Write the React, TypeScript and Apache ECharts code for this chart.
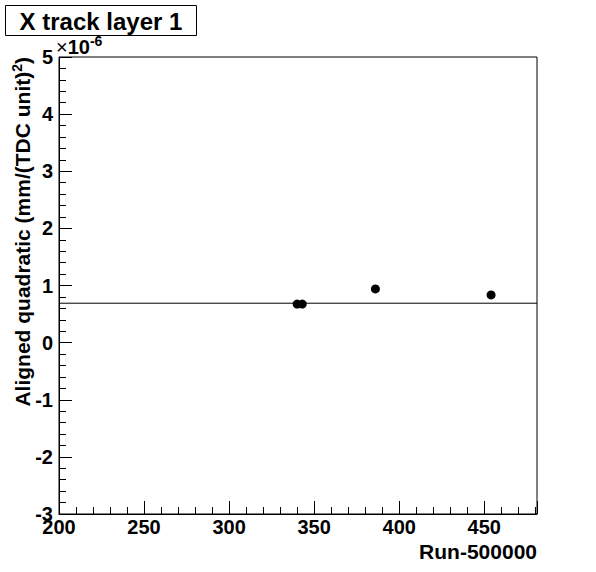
import React, { useEffect, useRef } from "react";
import * as echarts from "echarts";

const runs = [340, 343, 386, 454];
const values = [0.675, 0.675, 0.94, 0.835]; // in units of 1e-6
const fitValue = 0.69;
const xRange = [200, 481];
const yRange = [-3, 5];
const titleText = "X track layer 1";
const yTitle = "Aligned quadratic (mm/(TDC unit){s|2})";
const xTitle = "Run-500000";

const FONT = "'Liberation Sans', Arial, Helvetica, sans-serif";

export default function App() {
  const ref = useRef<HTMLDivElement>(null);
  useEffect(() => {
    if (!ref.current) return;
    const chart = echarts.init(ref.current, undefined, { renderer: "svg" });
    const points = runs.map((r, i) => [r, values[i]]);
    const fitLine = [
      [xRange[0], fitValue],
      [xRange[1], fitValue],
    ];
    const labelStyle = {
      color: "#000",
      fontFamily: FONT,
      fontWeight: "bold" as const,
      fontSize: 20,
    };
    chart.setOption({
      animation: false,
      backgroundColor: "#fff",
      grid: {
        left: 59,
        top: 57,
        width: 478,
        height: 457,
        show: true,
        borderColor: "#000",
        borderWidth: 1,
        backgroundColor: "transparent",
        containLabel: false,
      },
      xAxis: [
        {
          type: "value",
          min: xRange[0],
          max: xRange[1],
          interval: 50,
          position: "bottom",
          axisLine: { show: true, onZero: false, lineStyle: { color: "#000", width: 1 } },
          axisTick: { show: true, inside: true, length: 13, lineStyle: { color: "#000" } },
          splitLine: { show: false },
          axisLabel: {
            ...labelStyle,
            margin: 3,
            formatter: (v: number) => (v % 50 === 0 ? String(v) : ""),
          },
        },
        {
          type: "value",
          min: xRange[0],
          max: xRange[1],
          interval: 10,
          position: "bottom",
          offset: 0,
          axisLine: { show: false, onZero: false },
          axisTick: { show: true, inside: true, length: 7, lineStyle: { color: "#000" } },
          splitLine: { show: false },
          axisLabel: { show: false },
        },
      ],
      yAxis: [
        {
          type: "value",
          min: yRange[0],
          max: yRange[1],
          interval: 1,
          position: "left",
          axisLine: { show: true, onZero: false, lineStyle: { color: "#000", width: 1 } },
          axisTick: { show: true, inside: true, length: 13, lineStyle: { color: "#000" } },
          minorTick: { show: true, splitNumber: 5, length: 7, lineStyle: { color: "#000" } },
          splitLine: { show: false },
          minorSplitLine: { show: false },
          axisLabel: { ...labelStyle, margin: 6 },
        },
      ],
      series: [
        {
          type: "line",
          xAxisIndex: 0,
          data: fitLine,
          symbol: "none",
          lineStyle: { color: "#000", width: 1 },
          silent: true,
          z: 2,
        },
        {
          type: "scatter",
          xAxisIndex: 0,
          data: points,
          symbol: "circle",
          symbolSize: 9,
          itemStyle: { color: "#000", opacity: 1 },
          z: 3,
        },
      ],
      graphic: [
        {
          type: "rect",
          shape: { x: 5.5, y: 5.5, width: 191, height: 30 },
          style: { fill: "#fff", stroke: "#000", lineWidth: 1 },
        },
        {
          type: "text",
          x: 101,
          y: 21,
          style: {
            text: titleText,
            fill: "#000",
            font: `bold 24px ${FONT}`,
            align: "center",
            verticalAlign: "middle",
          },
        },
        {
          type: "text",
          x: 56,
          y: 47,
          style: {
            text: "{x|\u00D7}{a|10}{b|-6}",
            align: "left",
            verticalAlign: "middle",
            rich: {
              x: { fill: "#000", fontSize: 20, fontFamily: FONT, fontWeight: "normal" },
              a: { fill: "#000", fontSize: 20, fontFamily: FONT, fontWeight: "bold" },
              b: {
                fill: "#000",
                fontSize: 14,
                fontFamily: FONT,
                fontWeight: "bold",
                verticalAlign: "top",
                padding: [0, 0, 12, 0],
              },
            },
          },
        },
        {
          type: "text",
          x: 22,
          y: 57,
          rotation: Math.PI / 2,
          style: {
            text: "{m|Aligned quadratic (mm/(TDC unit)}{s|2}{m|)}",
            align: "right",
            verticalAlign: "middle",
            rich: {
              m: { fill: "#000", fontSize: 21, fontFamily: FONT, fontWeight: "bold" },
              s: {
                fill: "#000",
                fontSize: 14,
                fontFamily: FONT,
                fontWeight: "bold",
                verticalAlign: "top",
                padding: [0, 0, 10, 0],
              },
            },
          },
        },
        {
          type: "text",
          x: 537,
          y: 551,
          style: {
            text: xTitle,
            fill: "#000",
            font: `bold 21px ${FONT}`,
            align: "right",
            verticalAlign: "middle",
          },
        },
      ],
    });
    return () => chart.dispose();
  }, []);
  return (
    <div
      ref={ref}
      style={{ position: "fixed", left: 0, top: 0, width: 596, height: 572 }}
    />
  );
}
